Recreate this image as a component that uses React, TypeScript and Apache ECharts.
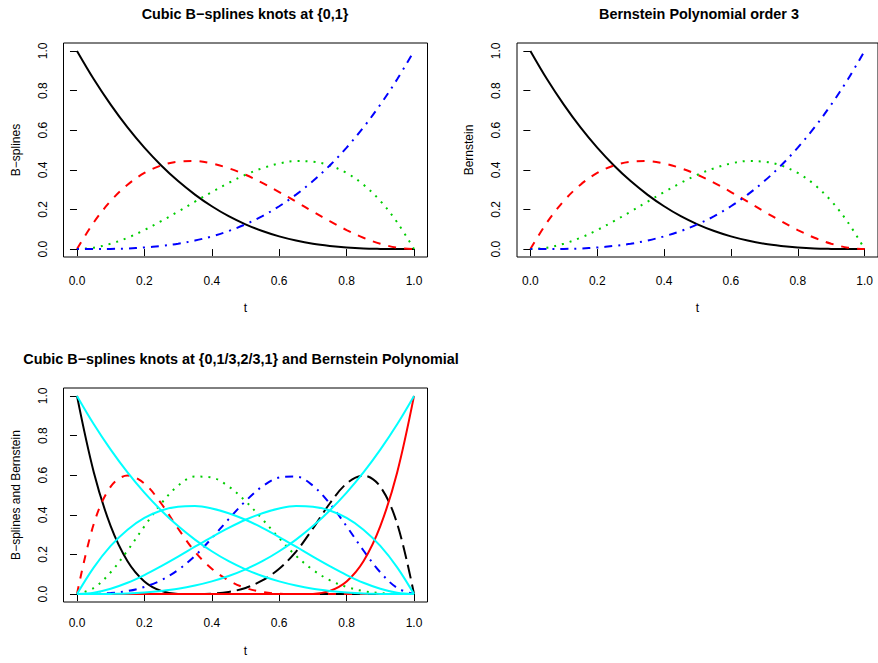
import React, { useEffect, useRef } from "react";
import * as echarts from "echarts";

// ---- data ----
const T = [0, 0.05, 0.1, 0.15, 0.2, 0.25, 0.3, 0.35, 0.4, 0.45, 0.5, 0.55, 0.6, 0.65, 0.7, 0.75, 0.8, 0.85, 0.9, 0.95, 1];
const TICKS = [0, 0.2, 0.4, 0.6, 0.8, 1];
const TICK_LABELS = ["0.0", "0.2", "0.4", "0.6", "0.8", "1.0"];

// Bernstein polynomials of order 3 (= cubic B-splines with knots {0,1})
const bern0 = [1, 0.857, 0.729, 0.614, 0.512, 0.422, 0.343, 0.275, 0.216, 0.166, 0.125, 0.091, 0.064, 0.043, 0.027, 0.016, 0.008, 0.003, 0.001, 0, 0];
const bern1 = [0, 0.135, 0.243, 0.325, 0.384, 0.422, 0.441, 0.444, 0.432, 0.408, 0.375, 0.334, 0.288, 0.239, 0.189, 0.141, 0.096, 0.057, 0.027, 0.007, 0];
const bern2 = [0, 0.007, 0.027, 0.057, 0.096, 0.141, 0.189, 0.239, 0.288, 0.334, 0.375, 0.408, 0.432, 0.444, 0.441, 0.422, 0.384, 0.325, 0.243, 0.135, 0];
const bern3 = [0, 0, 0.001, 0.003, 0.008, 0.016, 0.027, 0.043, 0.064, 0.091, 0.125, 0.166, 0.216, 0.275, 0.343, 0.422, 0.512, 0.614, 0.729, 0.857, 1];

// Cubic B-splines with knots {0,1/3,2/3,1}
const bs0 = [1, 0.614, 0.343, 0.166, 0.064, 0.016, 0.001, 0, 0, 0, 0, 0, 0, 0, 0, 0, 0, 0, 0, 0, 0];
const bs1 = [0, 0.355, 0.542, 0.598, 0.558, 0.457, 0.331, 0.214, 0.128, 0.069, 0.031, 0.011, 0.002, 0, 0, 0, 0, 0, 0, 0, 0];
const bs2 = [0, 0.031, 0.11, 0.22, 0.342, 0.457, 0.547, 0.593, 0.588, 0.543, 0.469, 0.378, 0.282, 0.193, 0.122, 0.07, 0.036, 0.015, 0.005, 0.001, 0];
const bs3 = [0, 0.001, 0.005, 0.015, 0.036, 0.07, 0.122, 0.193, 0.282, 0.378, 0.469, 0.543, 0.588, 0.593, 0.547, 0.457, 0.342, 0.22, 0.11, 0.031, 0];
const bs4 = [0, 0, 0, 0, 0, 0, 0, 0, 0.002, 0.011, 0.031, 0.069, 0.128, 0.214, 0.331, 0.457, 0.558, 0.598, 0.542, 0.355, 0];
const bs5 = [0, 0, 0, 0, 0, 0, 0, 0, 0, 0, 0, 0, 0, 0, 0.001, 0.016, 0.064, 0.166, 0.343, 0.614, 1];

const TITLES = [
  "Cubic B\u2212splines knots at {0,1}",
  "Bernstein Polynomial order 3",
  "Cubic B\u2212splines knots at {0,1/3,2/3,1} and Bernstein Polynomial",
];
const Y_NAMES = ["B\u2212splines", "Bernstein", "B\u2212splines and Bernstein"];
const X_NAME = "t";

// ---- styles ----
const FONT = "'Liberation Sans', Arial, Helvetica, sans-serif";
const BLACK = "#000000";
const RED = "#FF0000";
const GREEN = "#00CD00";
const BLUE = "#0000FF";
const CYAN = "#00FFFF";
const SOLID: any = "solid";
const DASHED = [8, 8];
const DOTTED = [2, 6];
const DOTDASH = [2, 6, 8, 6];
const LONGDASH = [14, 6];

const GRIDS = [
  { left: 63.5, top: 43, width: 364, height: 214 },
  { left: 517, top: 43, width: 364, height: 214 },
  { left: 63.5, top: 388, width: 364, height: 214 },
];
const TITLE_POS = [
  { left: 245, top: 7 },
  { left: 699, top: 7 },
  { left: 241, top: 352 },
];
const X_LABEL_MARGIN = [18, 18, 15];
const X_NAME_GAP = [45, 45, 43];

const fmt = (v: number) => {
  const i = TICKS.findIndex((t) => Math.abs(t - v) < 1e-9);
  return i >= 0 ? TICK_LABELS[i] : "";
};

const xAxisCfg = (gi: number) => ({
  type: "value",
  gridIndex: gi,
  min: -0.04,
  max: 1.04,
  name: X_NAME,
  nameLocation: "middle",
  nameGap: X_NAME_GAP[gi],
  nameTextStyle: { fontSize: 12, color: BLACK, fontFamily: FONT },
  axisLine: { show: false },
  splitLine: { show: false },
  axisTick: { show: true, customValues: TICKS, length: 7, inside: false, lineStyle: { color: BLACK, width: 1 } },
  axisLabel: { customValues: TICKS, formatter: fmt, fontSize: 12, color: BLACK, fontFamily: FONT, margin: X_LABEL_MARGIN[gi] },
});

const yAxisCfg = (gi: number) => ({
  type: "value",
  gridIndex: gi,
  min: -0.04,
  max: 1.04,
  name: Y_NAMES[gi],
  nameLocation: "middle",
  nameGap: 42,
  nameTextStyle: { fontSize: 12, color: BLACK, fontFamily: FONT },
  axisLine: { show: false },
  splitLine: { show: false },
  axisTick: { show: true, customValues: TICKS, length: 7, inside: false, lineStyle: { color: BLACK, width: 1 } },
  axisLabel: { customValues: TICKS, formatter: fmt, fontSize: 12, color: BLACK, fontFamily: FONT, margin: 15, rotate: 90 },
});

const line = (gi: number, values: number[], color: string, dash: any) => ({
  type: "line",
  xAxisIndex: gi,
  yAxisIndex: gi,
  data: T.map((t, i) => [t, values[i]]),
  showSymbol: false,
  symbol: "none",
  smooth: 0.35,
  silent: true,
  lineStyle: { color, width: 2, type: dash, cap: "butt" },
});

const option: any = {
  animation: false,
  backgroundColor: "#ffffff",
  title: TITLES.map((text, i) => ({
    text,
    left: TITLE_POS[i].left,
    top: TITLE_POS[i].top,
    padding: 0,
    textAlign: "center",
    textStyle: { fontSize: 14.4, fontWeight: "bold", color: BLACK, fontFamily: FONT },
  })),
  grid: GRIDS.map((g) => ({ ...g, show: true, borderColor: BLACK, borderWidth: 1, backgroundColor: "transparent", containLabel: false })),
  xAxis: [0, 1, 2].map(xAxisCfg),
  yAxis: [0, 1, 2].map(yAxisCfg),
  series: [
    line(0, bern0, BLACK, SOLID),
    line(0, bern1, RED, DASHED),
    line(0, bern2, GREEN, DOTTED),
    line(0, bern3, BLUE, DOTDASH),
    line(1, bern0, BLACK, SOLID),
    line(1, bern1, RED, DASHED),
    line(1, bern2, GREEN, DOTTED),
    line(1, bern3, BLUE, DOTDASH),
    line(2, bs0, BLACK, SOLID),
    line(2, bs1, RED, DASHED),
    line(2, bs2, GREEN, DOTTED),
    line(2, bs3, BLUE, DOTDASH),
    line(2, bs4, BLACK, LONGDASH),
    line(2, bs5, RED, SOLID),
    line(2, bern0, CYAN, SOLID),
    line(2, bern1, CYAN, SOLID),
    line(2, bern2, CYAN, SOLID),
    line(2, bern3, CYAN, SOLID),
  ],
};

export default function App() {
  const ref = useRef<HTMLDivElement>(null);
  useEffect(() => {
    document.body.style.margin = "0";
    const chart = echarts.init(ref.current!, null, { renderer: "svg" });
    chart.setOption(option);
    return () => chart.dispose();
  }, []);
  return <div ref={ref} style={{ width: 878, height: 663, overflow: "hidden" }} />;
}
